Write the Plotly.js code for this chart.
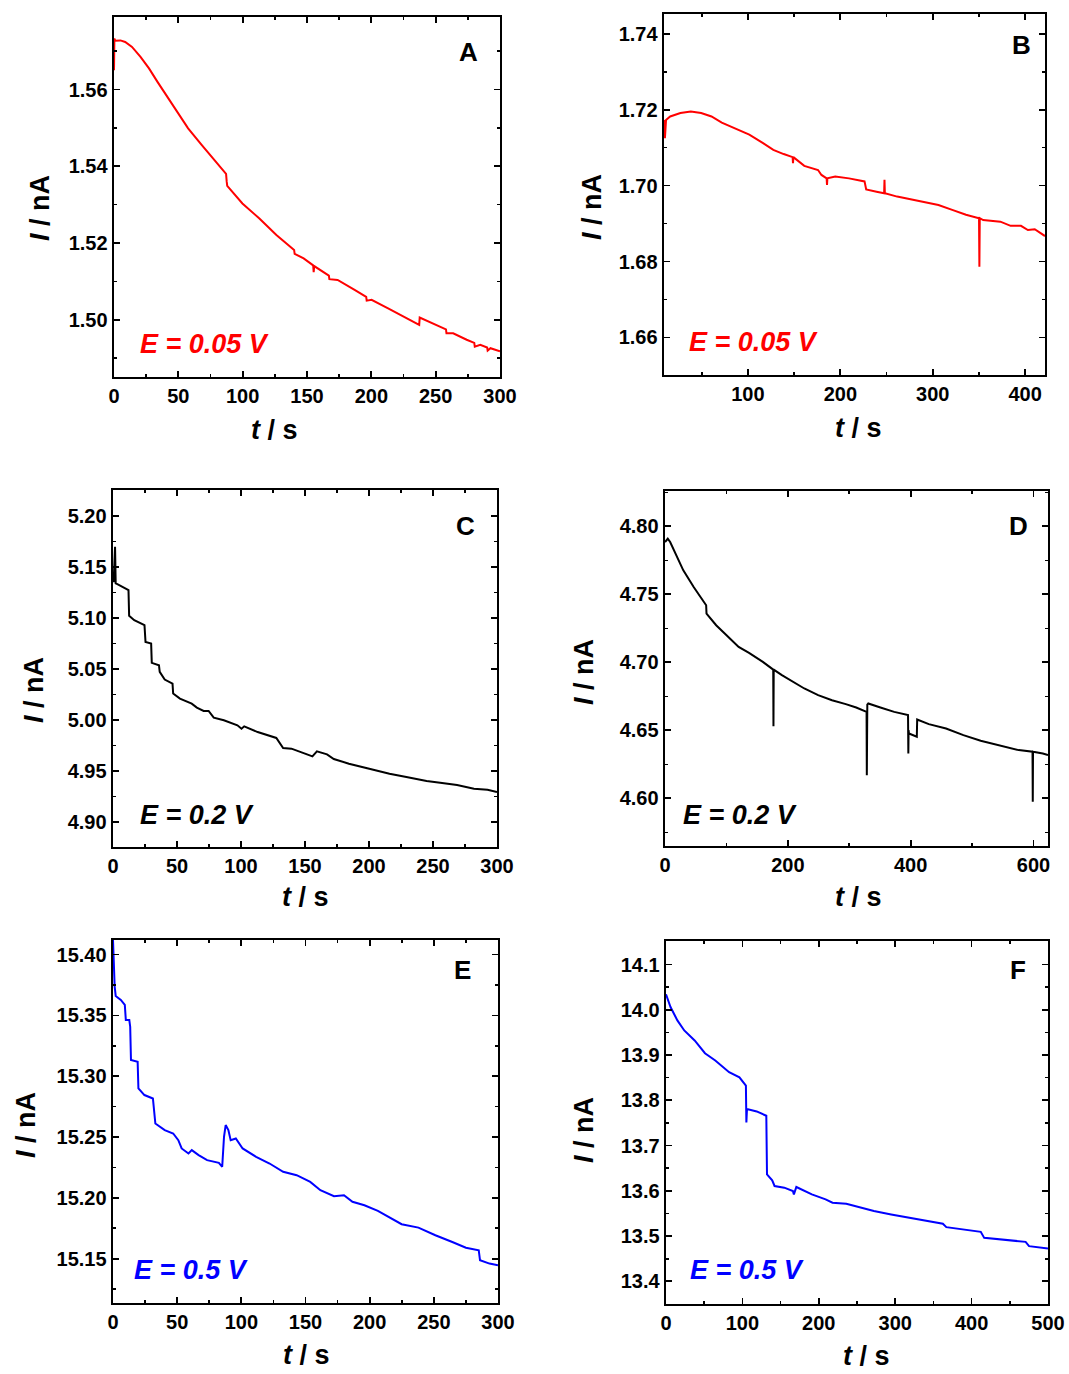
<!DOCTYPE html>
<html>
<head>
<meta charset="utf-8">
<script src="https://cdn.plot.ly/plotly-3.0.1.min.js"></script>
<style>html,body{margin:0;padding:0;background:#fff;}#chart{width:1069px;height:1374px;}</style>
</head>
<body>
<div id="chart"></div>
<script>
// ---- Panel A (E = 0.05 V) ----
const tA = [0, 0.3, 1, 5, 8.7, 14, 20.6, 27.2, 33.8, 41.7, 49.6, 57.6, 68.1, 78.7, 87.1, 87.6, 88, 99.8, 113, 126.2, 136.8, 140, 140.4, 147.4, 154.8, 155.2, 155.6, 160.6, 167, 167.4, 173.8, 187, 196, 196.4, 200.2, 213.4, 226.6, 237.2, 237.6, 245, 253, 258, 258.4, 263.6, 274.1, 280, 280.4, 284.7, 290, 290.4, 292.6, 300];
const iA = [1.5650, 1.5733, 1.5727, 1.5728, 1.5724, 1.5711, 1.5685, 1.5655, 1.5620, 1.5579, 1.5540, 1.5499, 1.5456, 1.5415, 1.5380, 1.5360, 1.5349, 1.5303, 1.5264, 1.5221, 1.5191, 1.5182, 1.5172, 1.5160, 1.5142, 1.5124, 1.5140, 1.5130, 1.5115, 1.5106, 1.5104, 1.5078, 1.5060, 1.5050, 1.5052, 1.5029, 1.5006, 1.4987, 1.5006, 1.4994, 1.4981, 1.4975, 1.4965, 1.4965, 1.4948, 1.4940, 1.4930, 1.4935, 1.4928, 1.4920, 1.4926, 1.4918];

// ---- Panel B (E = 0.05 V) ----
const tB = [9.2, 10.2, 11.4, 15.9, 27, 38.2, 49.4, 60.6, 71.7, 86.6, 101.5, 116.4, 127.5, 138.7, 148.4, 148.8, 149.2, 161, 175.9, 179.6, 185.2, 185.6, 186, 194.5, 209.4, 226.2, 228, 239.2, 247.4, 247.8, 248.2, 261.5, 276.4, 291.3, 306.2, 321.1, 336, 350.1, 350.5, 350.9, 354.6, 373.2, 384.3, 395.5, 403, 410.4, 421.5];
const iB = [1.7173, 1.7125, 1.7173, 1.7182, 1.7191, 1.7195, 1.7191, 1.7182, 1.7166, 1.7151, 1.7134, 1.7112, 1.7094, 1.7083, 1.7075, 1.7059, 1.7075, 1.7052, 1.7041, 1.7028, 1.7019, 1.7002, 1.7019, 1.7024, 1.7019, 1.7011, 1.6990, 1.6984, 1.6980, 1.7015, 1.6980, 1.6971, 1.6964, 1.6958, 1.6949, 1.6936, 1.6923, 1.6914, 1.6786, 1.6914, 1.6909, 1.6905, 1.6894, 1.6894, 1.6883, 1.6885, 1.6867];

// ---- Panel C (E = 0.2 V) ----
const tC = [0.5, 1.6, 2.1, 3.4, 12.1, 12.6, 16.6, 24.6, 25.4, 29.8, 30.3, 35.9, 36.5, 40.4, 46.5, 47, 52.3, 61.5, 65.5, 70.8, 74.7, 78.7, 86.6, 97.2, 100.4, 102.5, 113, 127.6, 132.9, 139.4, 150, 155.8, 159.3, 167.2, 172.5, 184.3, 200.2, 216, 229.2, 245, 255.6, 268.8, 282, 292.6, 300];
const iC = [5.1350, 5.1699, 5.1339, 5.1332, 5.1274, 5.1021, 5.0979, 5.0930, 5.0766, 5.0750, 5.0560, 5.0537, 5.0472, 5.0397, 5.0357, 5.0259, 5.0210, 5.0161, 5.0122, 5.0089, 5.0089, 5.0023, 4.9997, 4.9948, 4.9915, 4.9938, 4.9882, 4.9824, 4.9726, 4.9719, 4.9670, 4.9644, 4.9693, 4.9663, 4.9618, 4.9572, 4.9523, 4.9474, 4.9441, 4.9402, 4.9385, 4.9362, 4.9327, 4.9317, 4.9294];

// ---- Panel D (E = 0.2 V) ----
const tD = [0, 4.5, 8.4, 18.6, 29.8, 46.7, 63.6, 67, 67.6, 83.3, 100.2, 119.9, 136.8, 159.3, 176.2, 176.6, 177, 190.3, 204.3, 226.8, 249.3, 271.9, 294.4, 311.3, 328.2, 328.6, 329.4, 331, 350.7, 373.2, 395.7, 396.2, 396.6, 397.2, 410, 410.6, 429.5, 457.6, 485.8, 514, 542, 575.9, 598.4, 598.8, 599.2, 615.2, 623.6];
const iD = [4.7885, 4.7909, 4.7885, 4.7787, 4.7677, 4.7554, 4.7444, 4.7420, 4.7359, 4.7273, 4.7200, 4.7114, 4.7070, 4.7004, 4.6947, 4.6531, 4.6947, 4.6906, 4.6869, 4.6808, 4.6759, 4.6722, 4.6693, 4.6668, 4.6636, 4.6171, 4.6690, 4.6698, 4.6668, 4.6636, 4.6612, 4.6330, 4.6502, 4.6477, 4.6453, 4.6580, 4.6546, 4.6514, 4.6465, 4.6424, 4.6392, 4.6355, 4.6343, 4.5976, 4.6343, 4.6330, 4.6318];

// ---- Panel E (E = 0.5 V) ----
const tE = [0, 0.8, 1.3, 2.1, 6.1, 9.2, 10, 12.7, 13.4, 14, 19.2, 19.8, 24.5, 31.1, 33, 40.3, 46.9, 50.9, 53.5, 58.8, 61.4, 66.7, 73.3, 82.5, 85.1, 86.5, 87.8, 89.9, 91.7, 95.7, 101, 111.5, 122, 132.6, 143.1, 153.7, 161.6, 172.2, 180, 186.6, 195.9, 206.4, 214.3, 224.9, 238, 251.2, 264.4, 275, 285, 286, 293.4, 300];
const iE = [15.4120, 15.3874, 15.3737, 15.3660, 15.3627, 15.3586, 15.3462, 15.3462, 15.3407, 15.3133, 15.3119, 15.2900, 15.2845, 15.2817, 15.2611, 15.2557, 15.2529, 15.2474, 15.2406, 15.2364, 15.2392, 15.2351, 15.2310, 15.2288, 15.2255, 15.2502, 15.2598, 15.2557, 15.2474, 15.2488, 15.2406, 15.2337, 15.2282, 15.2214, 15.2186, 15.2131, 15.2063, 15.2013, 15.2021, 15.1967, 15.1939, 15.1892, 15.1848, 15.1783, 15.1755, 15.1692, 15.1637, 15.1590, 15.1568, 15.1486, 15.1459, 15.1445];

// ---- Panel F (E = 0.5 V) ----
const tF = [0, 5.9, 14.9, 23.9, 37.5, 51, 64.5, 82.6, 96.1, 104.2, 104.6, 105.2, 106, 118.7, 131.3, 132.2, 139, 142.1, 154.8, 166.1, 167.4, 170.6, 190.9, 208.9, 217.9, 236, 254.1, 272.1, 294.7, 317.3, 339.8, 362.4, 366.9, 389.5, 412, 416.5, 439.1, 470.7, 475.2, 488.7, 500];
const iF = [14.0342, 14.0061, 13.9766, 13.9544, 13.9322, 13.9041, 13.8879, 13.8620, 13.8509, 13.8324, 13.8324, 13.7511, 13.7807, 13.7755, 13.7659, 13.6366, 13.6233, 13.6107, 13.6070, 13.5996, 13.5922, 13.6085, 13.5922, 13.5812, 13.5738, 13.5716, 13.5627, 13.5553, 13.5479, 13.5405, 13.5331, 13.5272, 13.5198, 13.5146, 13.5095, 13.4961, 13.4925, 13.4873, 13.4778, 13.4741, 13.4725];

const panelLetters = ['A', 'B', 'C', 'D', 'E', 'F'];
const potentialLabels = ['E = 0.05 V', 'E = 0.05 V', 'E = 0.2 V', 'E = 0.2 V', 'E = 0.5 V', 'E = 0.5 V'];
const xTitle = '<i>t</i> / s';
const yTitle = '<i>I</i> / nA';

const W = 1069, H = 1374;
const FONT = 'Liberation Sans, Arial, sans-serif';
const colors = ['#ff0000', '#ff0000', '#000000', '#000000', '#0000ff', '#0000ff'];

// frame boxes in pixels: [left, right, top, bottom]
const boxes = [
  [114, 500, 17, 377],
  [664, 1045, 14, 375],
  [113, 497, 490, 847],
  [665, 1048, 491, 846],
  [113, 498, 940, 1303],
  [666, 1048, 941, 1304]
];
// text positions in pixels [x, y]
const xTitlePos = [[274, 430], [858, 428], [305, 897], [858, 897], [306, 1355], [866, 1356]];
const yTitlePos = [[40, 208], [592, 207], [34, 690], [584, 672], [26, 1125], [584, 1130]];
const letterPos = [[468, 52], [1021, 45], [465, 526], [1018, 526], [462, 970], [1018, 970]];
const ePos = [[138, 344], [687, 342], [138, 815], [681, 815], [132, 1270], [688, 1270]];

const xr = [[0, 300], [9.2, 421.5], [0, 300], [0, 623.6], [0, 300], [0, 500]];
const yr = [[1.4851, 1.5789], [1.6501, 1.7452], [4.8755, 5.2255], [4.565, 4.826], [15.1135, 15.412], [13.350, 14.152]];
const xd = [[50, 25], [100, 50], [50, 25], [200, 100], [50, 25], [100, 50]];
const yd = [[0.02, 0.01], [0.02, 0.01], [0.05, 0.025], [0.05, 0.025], [0.05, 0.025], [0.1, 0.05]];
const yfmt = ['.2f', '.2f', '.2f', '.2f', '.2f', '.1f'];
const xs = [tA, tB, tC, tD, tE, tF];
const ys = [iA, iB, iC, iD, iE, iF];

const data = [];
const layout = {
  width: W, height: H,
  margin: {l: 0, r: 0, t: 0, b: 0},
  paper_bgcolor: '#ffffff', plot_bgcolor: '#ffffff',
  showlegend: false,
  font: {family: FONT, color: '#000'},
  annotations: []
};

for (let k = 0; k < 6; k++) {
  const n = k + 1;
  const xa = 'x' + (n === 1 ? '' : n), ya = 'y' + (n === 1 ? '' : n);
  const xkey = 'xaxis' + (n === 1 ? '' : n), ykey = 'yaxis' + (n === 1 ? '' : n);
  const [l, r, t, b] = boxes[k];
  data.push({x: xs[k], y: ys[k], xaxis: xa, yaxis: ya, type: 'scatter', mode: 'lines',
    line: {color: colors[k], width: 2}, hoverinfo: 'skip'});
  const common = {
    showgrid: false, zeroline: false, showline: true, linecolor: '#000', linewidth: 2.4,
    mirror: 'ticks', ticks: 'inside', ticklen: 6, tickwidth: 1.8, tickcolor: '#000',
    tickfont: {family: FONT, size: 20, weight: 'bold', color: '#000'},
    fixedrange: true
  };
  layout[xkey] = Object.assign({}, common, {
    domain: [l / W, r / W], range: xr[k], anchor: ya,
    tick0: 0, dtick: xd[k][0],
    minor: {dtick: xd[k][1], tick0: 0, ticks: 'inside', ticklen: 3, tickwidth: 1.6, tickcolor: '#000', showgrid: false}
  });
  layout[ykey] = Object.assign({}, common, {
    domain: [1 - b / H, 1 - t / H], range: yr[k], anchor: xa,
    tick0: 0, dtick: yd[k][0], tickformat: yfmt[k],
    minor: {dtick: yd[k][1], tick0: 0, ticks: 'inside', ticklen: 3, tickwidth: 1.6, tickcolor: '#000', showgrid: false}
  });
  layout.annotations.push({xref: 'paper', yref: 'paper', x: xTitlePos[k][0] / W, y: 1 - xTitlePos[k][1] / H,
    text: xTitle, showarrow: false, xanchor: 'center', yanchor: 'middle',
    font: {family: FONT, size: 27, weight: 'bold', color: '#000'}});
  layout.annotations.push({xref: 'paper', yref: 'paper', x: yTitlePos[k][0] / W, y: 1 - yTitlePos[k][1] / H,
    text: yTitle, showarrow: false, textangle: -90, xanchor: 'center', yanchor: 'middle',
    font: {family: FONT, size: 27, weight: 'bold', color: '#000'}});
  layout.annotations.push({xref: 'paper', yref: 'paper', x: letterPos[k][0] / W, y: 1 - letterPos[k][1] / H,
    text: panelLetters[k], showarrow: false, xanchor: 'center', yanchor: 'middle',
    font: {family: FONT, size: 26, weight: 'bold', color: '#000'}});
  layout.annotations.push({xref: 'paper', yref: 'paper', x: ePos[k][0] / W, y: 1 - ePos[k][1] / H,
    text: '<i>' + potentialLabels[k] + '</i>', showarrow: false, xanchor: 'left', yanchor: 'middle',
    font: {family: FONT, size: 27, weight: 'bold', color: colors[k]}});
}

Plotly.newPlot('chart', data, layout, {displayModeBar: false, staticPlot: true});
</script>
</body>
</html>
